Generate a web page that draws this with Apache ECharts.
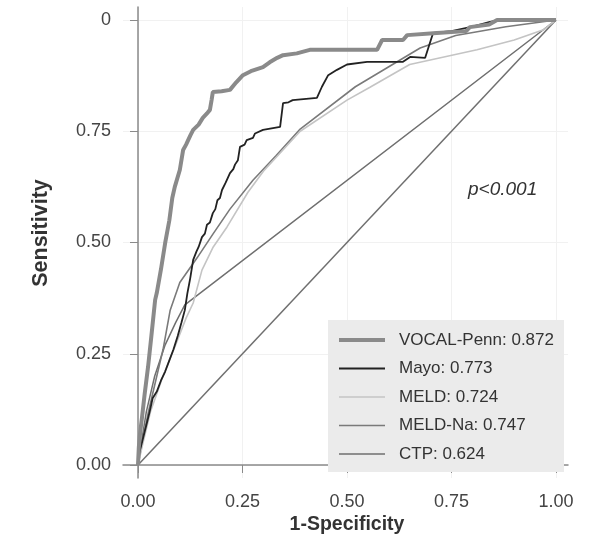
<!DOCTYPE html>
<html>
<head>
<meta charset="utf-8">
<script src="https://cdn.jsdelivr.net/npm/echarts@6/dist/echarts.min.js"></script>
<style>
  html, body { margin: 0; padding: 0; background: #fff; }
  #chart { width: 592px; height: 546px; }
</style>
</head>
<body>
<div id="chart"></div>
<script>
// ROC curves: [1-specificity, sensitivity]
const vocalPenn = [[0,0],[0.002,0.04],[0.005,0.072],[0.01,0.11],[0.016,0.16],[0.024,0.22],[0.032,0.29],[0.041,0.371],[0.045,0.387],[0.055,0.44],[0.065,0.499],[0.075,0.55],[0.082,0.6],[0.088,0.625],[0.1,0.663],[0.108,0.708],[0.115,0.72],[0.125,0.74],[0.132,0.753],[0.145,0.765],[0.155,0.78],[0.165,0.79],[0.172,0.798],[0.176,0.82],[0.179,0.838],[0.2,0.84],[0.22,0.843],[0.235,0.86],[0.251,0.876],[0.27,0.885],[0.299,0.894],[0.315,0.905],[0.333,0.915],[0.347,0.921],[0.38,0.925],[0.411,0.933],[0.572,0.933],[0.584,0.955],[0.634,0.955],[0.644,0.966],[0.715,0.971],[0.785,0.975],[0.794,0.984],[0.84,0.99],[0.859,1],[1,1]];
const mayo = [[0,0],[0.004,0.03],[0.012,0.06],[0.02,0.09],[0.028,0.12],[0.035,0.15],[0.045,0.165],[0.055,0.19],[0.065,0.21],[0.075,0.235],[0.085,0.26],[0.095,0.29],[0.104,0.32],[0.112,0.348],[0.118,0.385],[0.125,0.42],[0.132,0.461],[0.14,0.48],[0.145,0.49],[0.153,0.512],[0.16,0.52],[0.165,0.54],[0.172,0.545],[0.179,0.566],[0.185,0.575],[0.19,0.595],[0.196,0.6],[0.201,0.618],[0.21,0.635],[0.22,0.656],[0.228,0.665],[0.232,0.675],[0.239,0.685],[0.244,0.715],[0.255,0.72],[0.26,0.73],[0.275,0.735],[0.28,0.745],[0.299,0.753],[0.34,0.76],[0.347,0.813],[0.36,0.815],[0.37,0.82],[0.428,0.825],[0.44,0.85],[0.455,0.876],[0.476,0.888],[0.5,0.9],[0.548,0.906],[0.634,0.906],[0.651,0.917],[0.687,0.915],[0.706,0.971],[0.75,0.975],[0.8,0.985],[0.842,0.996],[0.866,1],[1,1]];
const meld = [[0,0],[0.012,0.05],[0.03,0.12],[0.06,0.2],[0.09,0.27],[0.115,0.33],[0.132,0.364],[0.153,0.438],[0.18,0.49],[0.213,0.535],[0.263,0.613],[0.3,0.66],[0.388,0.75],[0.5,0.82],[0.555,0.849],[0.65,0.9],[0.811,0.933],[0.9,0.955],[0.97,0.978],[1,1]];
const meldNa = [[0,0],[0.01,0.05],[0.025,0.12],[0.045,0.2],[0.06,0.26],[0.077,0.348],[0.1,0.41],[0.141,0.465],[0.18,0.52],[0.22,0.575],[0.275,0.64],[0.33,0.695],[0.388,0.755],[0.52,0.85],[0.675,0.937],[0.76,0.965],[0.88,0.985],[1,1]];
const ctp = [[0,0],[0.008,0.05],[0.02,0.12],[0.04,0.2],[0.065,0.27],[0.09,0.32],[0.112,0.36],[1,1]];
const chance = [[0,0],[1,1]];

const seriesNames = ['VOCAL-Penn: 0.872', 'Mayo: 0.773', 'MELD: 0.724', 'MELD-Na: 0.747', 'CTP: 0.624'];
const tickValues = [0, 0.25, 0.5, 0.75, 1];
const xTickLabels = ['0.00', '0.25', '0.50', '0.75', '1.00'];
const yTickLabels = ['0.00', '0.25', '0.50', '0.75', '0'];

const FONT = '"Liberation Sans", Arial, sans-serif';

// colour and width per model
const styles = {
  'VOCAL-Penn: 0.872': { color: '#8a8a8a', width: 4 },
  'Mayo: 0.773': { color: '#222222', width: 1.8 },
  'MELD: 0.724': { color: '#c4c4c4', width: 1.6 },
  'MELD-Na: 0.747': { color: '#7a7a7a', width: 1.6 },
  'CTP: 0.624': { color: '#6f6f6f', width: 1.5 }
};

function lineSeries(name, data, color, width, z) {
  return {
    name: name, type: 'line', data: data, symbol: 'none', z: z,
    lineStyle: { color: color, width: width }, itemStyle: { color: color },
    animation: false, silent: true
  };
}

function tickLabel(labels) {
  return v => labels[tickValues.indexOf(Math.round(v * 100) / 100)];
}

const chart = echarts.init(document.getElementById('chart'), null, { renderer: 'canvas' });
chart.setOption({
  backgroundColor: '#ffffff',
  animation: false,
  grid: { left: 123, right: 24, top: 7, bottom: 68, containLabel: false },
  xAxis: {
    type: 'value', min: -15 / 418, max: 430 / 418,
    axisLine: { show: true, lineStyle: { color: '#8a8a8a', width: 1.5 } },
    axisTick: { show: true, length: 8, customValues: tickValues, lineStyle: { color: '#8a8a8a' } },
    axisLabel: { customValues: tickValues, margin: 15, color: '#444', fontSize: 18, fontFamily: FONT, formatter: tickLabel(xTickLabels) },
    splitLine: { show: true, lineStyle: { color: '#f1f1f1', width: 1 } }
  },
  yAxis: {
    type: 'value', min: -13 / 445, max: 458 / 445,
    axisLine: { show: true, lineStyle: { color: '#8a8a8a', width: 1.5 } },
    axisTick: { show: true, length: 8, customValues: tickValues, lineStyle: { color: '#8a8a8a' } },
    axisLabel: { customValues: tickValues, margin: 12, color: '#444', fontSize: 18, fontFamily: FONT, formatter: tickLabel(yTickLabels) },
    splitLine: { show: true, lineStyle: { color: '#f1f1f1', width: 1 } }
  },
  legend: {
    orient: 'vertical', left: 328, top: 320,
    backgroundColor: '#ebebeb', padding: [11.5, 10, 9.5, 9],
    itemWidth: 46, itemHeight: 14, itemGap: 11.5,
    itemStyle: { opacity: 0 },
    data: seriesNames.map(n => ({ name: n, lineStyle: { color: styles[n].color, width: styles[n].width } })),
    textStyle: { color: '#333', fontSize: 17, fontFamily: FONT, padding: [0, 0, 0, 9] },
    selectedMode: false
  },
  graphic: [
    {
      type: 'text', x: 347, y: 525,
      style: { text: '1-Specificity', fill: '#333', font: 'bold 19.5px "Liberation Sans", Arial, sans-serif', align: 'center', verticalAlign: 'middle' }
    },
    {
      type: 'text', x: 41, y: 233, rotation: Math.PI / 2,
      style: { text: 'Sensitivity', fill: '#333', font: 'bold 21.5px "Liberation Sans", Arial, sans-serif', align: 'center', verticalAlign: 'middle' }
    },
    {
      type: 'text', x: 468, y: 190,
      style: { text: 'p<0.001', fill: '#333', font: 'italic 19px "Liberation Sans", Arial, sans-serif', align: 'left', verticalAlign: 'middle' }
    }
  ],
  series: [
    lineSeries('chance', chance, '#6f6f6f', 1.5, 1),
    lineSeries(seriesNames[4], ctp, styles[seriesNames[4]].color, styles[seriesNames[4]].width, 2),
    lineSeries(seriesNames[3], meldNa, styles[seriesNames[3]].color, styles[seriesNames[3]].width, 3),
    lineSeries(seriesNames[2], meld, styles[seriesNames[2]].color, styles[seriesNames[2]].width, 4),
    lineSeries(seriesNames[1], mayo, styles[seriesNames[1]].color, styles[seriesNames[1]].width, 5),
    lineSeries(seriesNames[0], vocalPenn, styles[seriesNames[0]].color, styles[seriesNames[0]].width, 6)
  ]
});
</script>
</body>
</html>
